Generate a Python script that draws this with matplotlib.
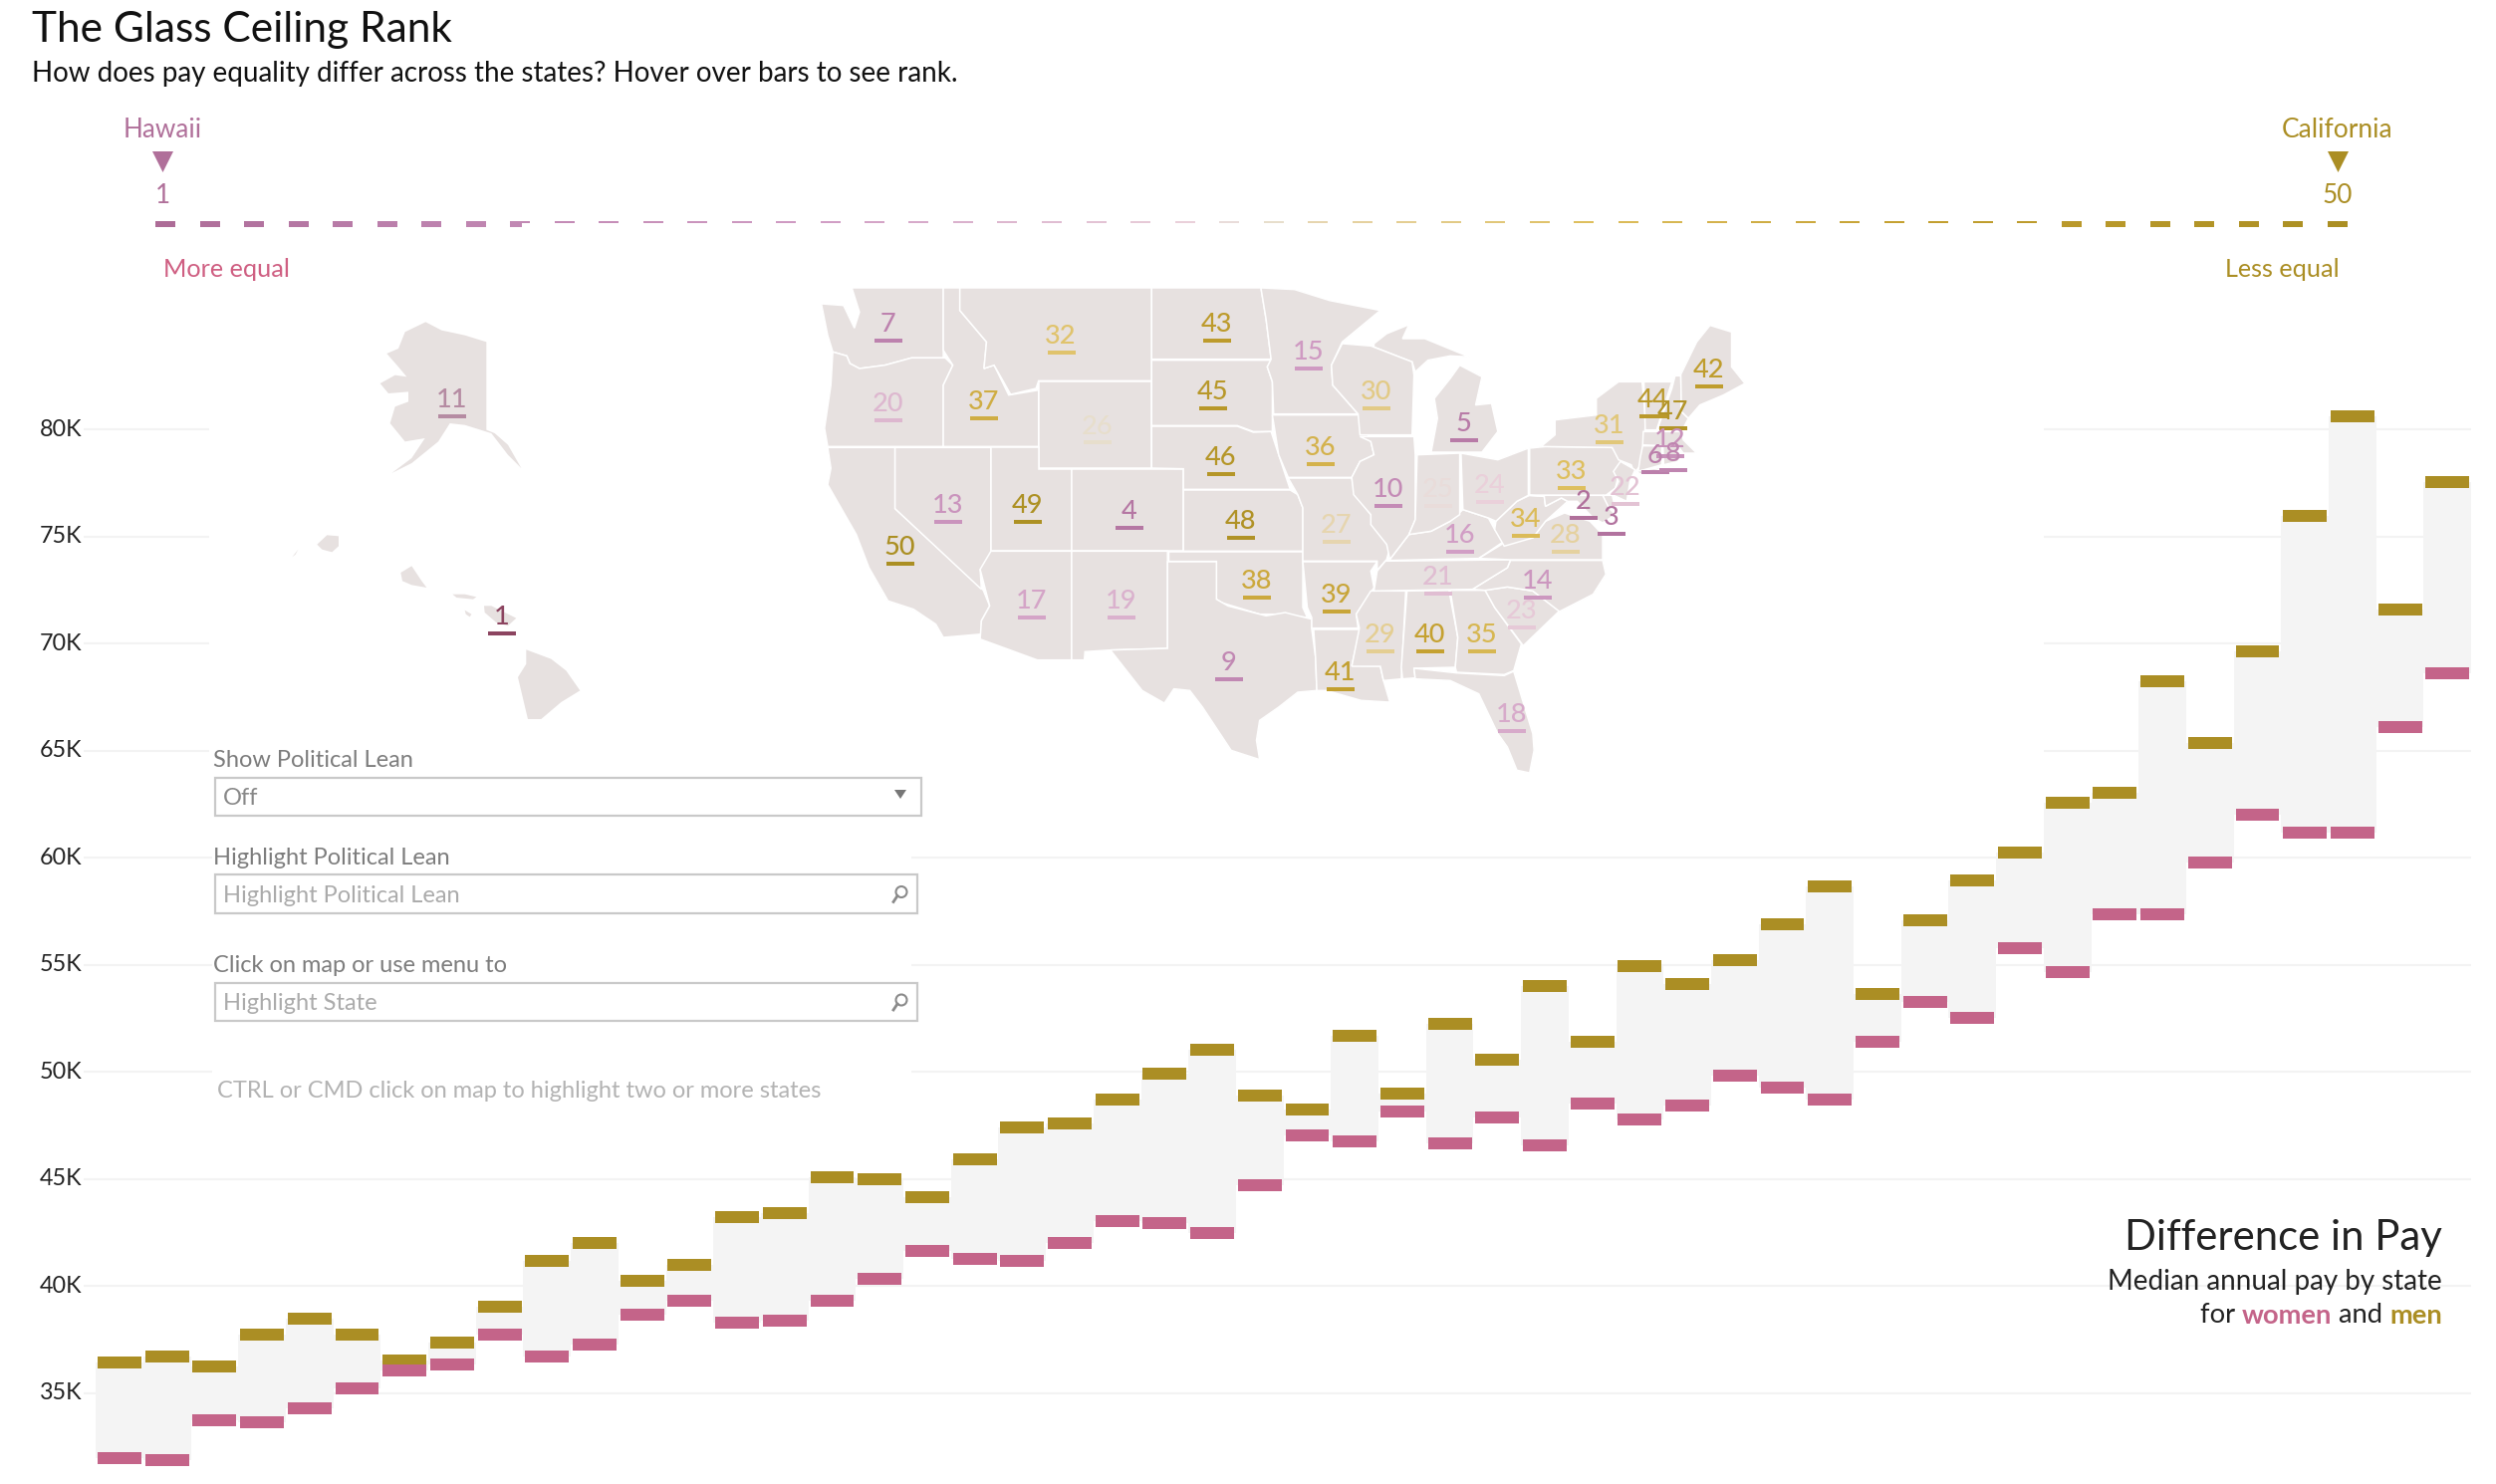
import matplotlib
matplotlib.use('Agg')
import matplotlib.pyplot as plt
import numpy as np
from matplotlib.colors import LinearSegmentedColormap
from matplotlib.patches import Polygon, Rectangle, Circle

W, H = 2506, 1490
plt.rcParams['font.family'] = ['Lato', 'DejaVu Sans']

# median pay in thousands, states sorted by men+women pay
men_pay = [36.43, 36.71, 36.24, 37.73, 38.47, 37.73, 36.52, 37.36, 39.03, 41.17,
           42.01, 40.24, 40.98, 43.22, 43.40, 45.08, 44.98, 44.15, 45.91, 47.40,
           47.59, 48.70, 49.91, 51.03, 48.89, 48.24, 51.68, 48.98, 52.24, 50.56,
           54.01, 51.40, 54.94, 54.10, 55.21, 56.89, 58.66, 53.63, 57.07, 58.94,
           60.24, 62.56, 63.03, 68.24, 65.35, 69.63, 75.96, 80.60, 71.58, 77.54]
women_pay = [31.96, 31.87, 33.73, 33.64, 34.29, 35.22, 36.06, 36.33, 37.73, 36.71,
             37.26, 38.66, 39.31, 38.29, 38.38, 39.31, 40.33, 41.64, 41.26, 41.17,
             42.01, 43.03, 42.94, 42.47, 44.71, 47.03, 46.75, 48.15, 46.66, 47.87,
             46.56, 48.52, 47.77, 48.43, 49.82, 49.26, 48.70, 51.40, 53.26, 52.52,
             55.77, 54.66, 57.35, 57.35, 59.77, 62.00, 61.17, 61.17, 66.10, 68.61]
y_ticks = [35, 40, 45, 50, 55, 60, 65, 70, 75, 80]
y_labels = ['35K', '40K', '45K', '50K', '55K', '60K', '65K', '70K', '75K', '80K']
ranks = list(range(1, 51))

GOLD = '#ab8e24'
PINK = '#c46489'
BAND = '#f4f4f4'
LAND = '#e7e1e0'

rank_cmap = LinearSegmentedColormap.from_list('rank', [
    (0.0, '#ad6c97'), (0.1, '#bb7fab'), (0.3, '#d09cc4'), (0.47, '#ead0da'), (0.5, '#e8e2da'),
    (0.53, '#e6d5ae'), (0.65, '#dfc060'), (0.8, '#c4a030'), (1.0, '#ab8f23')])


def rank_color(r):
    return rank_cmap((r - 1) / 49)


fig = plt.figure(figsize=(W / 100, H / 100), dpi=100)
fig.patch.set_facecolor('white')

# main chart, pixel scale: 21.504 px per 1K and 47.7 px per state
ax = fig.add_axes([84 / W, 0, (2481 - 84) / W, 1])
ax.set_xlim((84 - 120) / 47.7, (2481 - 120) / 47.7)
ax.set_ylim(35 - (H - 1398.7) / 21.504, 35 + 1398.7 / 21.504)
x = np.arange(len(men_pay))
men = np.array(men_pay)
women = np.array(women_pay)
mark_h = 12 / 21.504
ax.bar(x, men - women, bottom=women, width=1.0, color=BAND, zorder=2)
ax.bar(x, mark_h, bottom=men - mark_h / 2, width=0.92, color=GOLD, zorder=3)
ax.bar(x, mark_h, bottom=women - mark_h / 2, width=0.92, color=PINK, zorder=4)
ax.set_yticks(y_ticks)
ax.set_yticklabels(y_labels, fontsize=16.8, color='#222222', va='center')
ax.set_xticks([])
ax.tick_params(axis='y', length=0, pad=1)
ax.grid(axis='y', color='#f3f3f3', linewidth=1.5, zorder=1)
ax.set_axisbelow(True)
for s in ax.spines.values():
    s.set_visible(False)
ax.patch.set_alpha(0)

# everything else sits on an overlay measured in pixels
ov = fig.add_axes([0, 0, 1, 1], zorder=5)
ov.set_xlim(0, W)
ov.set_ylim(H, 0)
ov.axis('off')
ov.patch.set_alpha(0)

ov.add_patch(Rectangle((210, 232), 2052 - 210, 800 - 232, fc='white', ec='none', zorder=1))
ov.add_patch(Rectangle((213, 740), 915 - 213, 1110 - 740, fc='white', ec='none', zorder=1))

# rank strip
strip = fig.add_axes([100 / W, 1 - 240 / H, 2300 / W, 30 / H], zorder=4)
strip.set_xlim(1 + (100 - 166) / 44.5, 1 + (2400 - 166) / 44.5)
strip.set_ylim(30, 0)
strip.axis('off')
strip.bar(ranks, 6, bottom=12, width=20 / 44.5, color=[rank_color(r) for r in ranks])
ov.add_patch(Rectangle((524, 224), 2052 - 524, 8, fc='white', ec='none', zorder=2))

# map, traced on a 1568 x 1560 grid over the lower 48
shapes = {
    'WA': [(118, 57), (262, 57), (262, 268), (212, 268), (170, 290), (130, 300), (115, 285), (110, 262), (88, 250), (80, 200), (70, 105), (105, 110), (122, 178), (130, 130)],
    'OR': [(88, 250), (110, 262), (115, 285), (130, 300), (170, 290), (212, 268), (265, 268), (277, 290), (262, 350), (262, 535), (80, 535), (75, 480), (85, 350)],
    'CA': [(80, 538), (186, 538), (186, 722), (325, 968), (335, 1015), (322, 1060), (322, 1100), (262, 1110), (250, 1070), (215, 1025), (175, 1000), (145, 900), (125, 800), (80, 650), (85, 600)],
    'NV': [(186, 538), (337, 538), (337, 920), (320, 905), (322, 965), (186, 722)],
    'ID': [(262, 57), (288, 57), (288, 125), (330, 220), (326, 300), (342, 290), (365, 380), (412, 365), (412, 535), (262, 535), (262, 350), (277, 290), (262, 245)],
    'MT': [(288, 57), (590, 57), (590, 337), (412, 337), (408, 360), (368, 378), (342, 290), (326, 300), (330, 220), (288, 125)],
    'WY': [(412, 340), (590, 340), (590, 600), (412, 600)],
    'UT': [(337, 538), (412, 538), (412, 602), (464, 602), (464, 850), (337, 850)],
    'AZ': [(337, 850), (464, 850), (464, 1178), (410, 1178), (320, 1115), (322, 1060), (335, 1015), (320, 905)],
    'CO': [(464, 602), (640, 602), (640, 850), (464, 850)],
    'NM': [(464, 850), (615, 850), (615, 1143), (525, 1148), (485, 1153), (484, 1178), (464, 1178)],
    'ND': [(590, 57), (762, 57), (770, 150), (778, 272), (590, 272)],
    'SD': [(590, 275), (778, 275), (772, 295), (780, 340), (780, 490), (750, 490), (725, 472), (590, 472)],
    'NE': [(590, 474), (725, 474), (750, 492), (778, 490), (790, 560), (808, 664), (640, 664), (640, 602), (590, 600)],
    'KS': [(640, 666), (808, 666), (820, 680), (828, 720), (828, 850), (640, 850)],
    'OK': [(617, 852), (828, 852), (828, 1020), (835, 1050), (790, 1040), (760, 1040), (700, 1005), (692, 995), (692, 881), (617, 881)],
    'TX': [(615, 882), (692, 882), (692, 995), (710, 1015), (770, 1045), (800, 1035), (842, 1055), (842, 1085), (848, 1170), (850, 1270), (820, 1275), (790, 1320), (760, 1360), (755, 1420), (760, 1478), (715, 1450), (670, 1320), (650, 1270), (625, 1265), (610, 1308), (575, 1270), (525, 1148), (615, 1143)],
    'MN': [(762, 57), (815, 62), (870, 95), (950, 125), (890, 220), (873, 290), (875, 350), (915, 437), (782, 437), (780, 340), (772, 295), (778, 272), (770, 150)],
    'IA': [(780, 440), (915, 440), (935, 520), (940, 560), (918, 580), (905, 628), (805, 628), (790, 560)],
    'MO': [(805, 630), (905, 630), (910, 680), (935, 740), (965, 840), (960, 875), (945, 908), (945, 880), (828, 880), (828, 720), (820, 680)],
    'AR': [(828, 882), (945, 882), (935, 910), (940, 960), (912, 1040), (915, 1082), (842, 1082), (842, 1050), (835, 1020)],
    'LA': [(845, 1086), (918, 1086), (905, 1195), (950, 1197), (955, 1240), (965, 1305), (920, 1300), (865, 1270), (850, 1270), (848, 1170)],
    'MS': [(935, 970), (990, 970), (983, 1235), (955, 1240), (950, 1197), (905, 1197), (917, 1082), (912, 1040)],
    'AL': [(992, 970), (1058, 968), (1072, 1110), (1068, 1200), (1003, 1203), (1005, 1232), (985, 1235), (983, 1200)],
    'GA': [(1060, 968), (1115, 968), (1130, 1020), (1172, 1130), (1160, 1210), (1145, 1222), (1070, 1215), (1068, 1200), (1072, 1110)],
    'FL': [(1003, 1203), (1070, 1217), (1145, 1225), (1160, 1212), (1190, 1400), (1192, 1450), (1185, 1518), (1165, 1510), (1150, 1440), (1135, 1400), (1120, 1340), (1105, 1280), (1060, 1240), (1005, 1235)],
    'SC': [(1115, 968), (1150, 958), (1190, 970), (1232, 1030), (1175, 1135), (1130, 1020)],
    'NC': [(1095, 965), (1150, 900), (1155, 878), (1300, 878), (1305, 920), (1285, 980), (1232, 1032), (1190, 970), (1150, 958), (1115, 968)],
    'TN': [(958, 880), (1155, 876), (1150, 900), (1095, 965), (940, 970), (945, 910)],
    'KY': [(965, 875), (995, 800), (1030, 790), (1060, 760), (1080, 725), (1120, 750), (1130, 785), (1145, 820), (1105, 872), (965, 878)],
    'VA': [(1105, 872), (1145, 825), (1190, 810), (1210, 760), (1240, 735), (1280, 760), (1300, 800), (1300, 876), (1155, 876)],
    'WV': [(1132, 760), (1165, 700), (1185, 682), (1208, 685), (1210, 715), (1235, 690), (1245, 700), (1210, 760), (1190, 810), (1145, 835), (1130, 785)],
    'IL': [(918, 505), (1003, 505), (1005, 560), (1005, 755), (995, 800), (965, 875), (960, 830), (935, 770), (935, 740), (908, 680), (905, 628), (918, 580), (940, 560), (935, 520)],
    'IN': [(1008, 560), (1075, 555), (1075, 740), (1060, 760), (1030, 790), (995, 800), (1005, 755)],
    'OH': [(1077, 555), (1135, 575), (1183, 540), (1183, 682), (1165, 700), (1132, 760), (1120, 750), (1080, 725)],
    'MI': [(1030, 552), (1040, 450), (1035, 390), (1060, 330), (1075, 290), (1110, 325), (1100, 410), (1125, 405), (1135, 490), (1110, 552)],
    'UP': [(940, 225), (960, 195), (995, 168), (985, 210), (1020, 210), (1090, 265), (1060, 262), (1025, 275), (1005, 310), (1000, 280), (940, 235)],
    'WI': [(890, 225), (935, 232), (1000, 280), (1003, 320), (1000, 500), (918, 500), (915, 437), (875, 350), (873, 290)],
    'PA': [(1185, 540), (1210, 535), (1315, 538), (1330, 580), (1320, 660), (1305, 682), (1185, 682)],
    'NY': [(1203, 535), (1225, 500), (1225, 455), (1290, 440), (1290, 390), (1325, 340), (1362, 340), (1368, 460), (1360, 590), (1350, 615), (1345, 590), (1325, 575), (1315, 538)],
    'VT': [(1365, 340), (1409, 340), (1385, 485), (1367, 485)],
    'NH': [(1414, 322), (1423, 322), (1424, 430), (1435, 450), (1427, 480), (1386, 485), (1409, 360)],
    'ME': [(1423, 318), (1448, 220), (1469, 170), (1503, 190), (1503, 295), (1524, 345), (1490, 380), (1453, 410), (1435, 450), (1424, 430)],
    'MA': [(1364, 490), (1424, 490), (1427, 515), (1448, 555), (1427, 555), (1419, 535), (1363, 530)],
    'CT': [(1363, 533), (1393, 533), (1393, 590), (1356, 610), (1359, 570)],
    'RI': [(1395, 533), (1419, 535), (1419, 580), (1396, 590)],
    'NJ': [(1328, 580), (1351, 605), (1343, 640), (1338, 700), (1315, 680), (1325, 640), (1317, 610)],
    'DE': [(1300, 682), (1315, 682), (1320, 720), (1308, 720)],
    'MD': [(1185, 682), (1300, 682), (1310, 720), (1320, 740), (1300, 765), (1285, 750), (1260, 700), (1245, 700), (1235, 690), (1210, 715), (1208, 685)],
    'LI': [(1352, 610), (1420, 590), (1360, 618)],
}
# Alaska and Hawaii, traced at 3x
island_shapes = {
    'AK': [(682, 70), (730, 95), (800, 110), (865, 130), (865, 395), (890, 405), (930, 440), (970, 510), (930, 470), (880, 405), (800, 380), (755, 375), (720, 430), (640, 495), (580, 525), (640, 480), (680, 420), (620, 430), (575, 375), (590, 325), (630, 310), (630, 280), (570, 285), (545, 255), (590, 230), (625, 235), (600, 205), (565, 165), (600, 150), (620, 100)],
    'Kauai': [(355, 740), (385, 712), (420, 715), (420, 745), (400, 763), (370, 755)],
    'Oahu': [(607, 825), (640, 805), (670, 850), (685, 870), (640, 862), (612, 850)],
    'Molokai': [(763, 890), (800, 890), (835, 898), (825, 905), (775, 900)],
    'Lanai': [(800, 938), (820, 950), (815, 958), (803, 950)],
    'Maui': [(858, 925), (880, 925), (955, 962), (930, 985), (895, 975), (860, 945)],
    'Big': [(985, 1057), (1060, 1085), (1105, 1120), (1147, 1180), (1090, 1215), (1030, 1266), (990, 1266), (960, 1140), (985, 1100)],
    'Niihau': [(280, 778), (298, 755), (290, 770)],
}


def from_grid(px, py):
    return 780 + px / 1.568, 270 + py / 3


for name, pts in shapes.items():
    ov.add_patch(Polygon([from_grid(*p) for p in pts], closed=True, fc=LAND, ec='white', lw=1.1, zorder=3))
for name, pts in island_shapes.items():
    ov.add_patch(Polygon([(200 + p[0] / 3, 300 + p[1] / 3) for p in pts], closed=True, fc=LAND, ec='none', zorder=3))

# rank label on each state, at the centre of its underline
rank_spots = {
    7: (176, 215), 32: (448, 251), 43: (693, 215), 15: (837, 299), 45: (687, 419), 20: (176, 455),
    37: (326, 449), 26: (505, 522), 30: (944, 419), 5: (1082, 515), 36: (856, 587), 46: (699, 617),
    42: (1468, 353), 44: (1380, 443), 47: (1411, 479), 31: (1311, 521), 12: (1406, 563), 6: (1383, 611),
    8: (1411, 605), 33: (1251, 659), 22: (1336, 707), 24: (1123, 701), 25: (1041, 713), 10: (963, 713),
    13: (270, 761), 49: (395, 761), 4: (555, 779), 48: (731, 809), 27: (881, 821), 34: (1179, 803),
    28: (1242, 851), 2: (1270, 749), 3: (1314, 797), 16: (1076, 851), 50: (194, 887), 38: (756, 989),
    39: (881, 1031), 21: (1041, 977), 14: (1198, 989), 23: (1173, 1079), 17: (401, 1049), 19: (543, 1049),
    29: (950, 1151), 40: (1029, 1151), 35: (1110, 1151), 41: (887, 1265), 9: (712, 1235), 18: (1157, 1391),
}


def rank_mark(r, bx, by, col):
    ov.add_patch(Rectangle((bx - 14, by - 2), 28, 4, fc=col, ec='none', zorder=4))
    ov.text(bx - 0.5, by - 16, str(r), color=col, fontsize=19.5, weight='medium', ha='center', va='center', zorder=5)


for r, spot in rank_spots.items():
    bx, by = from_grid(*spot)
    rank_mark(r, bx, by, rank_color(r))
rank_mark(11, 454, 417.7, '#b58ba2')
rank_mark(1, 504, 635.7, '#8c4460')

# header
ov.text(32, 42, 'The Glass Ceiling Rank', fontsize=30.5, color='#111111', ha='left', va='baseline')
ov.text(32, 82, 'How does pay equality differ across the states? Hover over bars to see rank.', fontsize=20, color='#111111', ha='left', va='baseline')

ov.text(163, 130, 'Hawaii', fontsize=18.8, color='#b0709a', ha='center', va='center')
ov.add_patch(Polygon([(153, 152), (174, 152), (163.5, 173)], fc='#b0709a', ec='none'))
ov.text(163, 196, '1', fontsize=18.8, color='#b0709a', ha='center', va='center')
ov.text(164, 270, 'More equal', fontsize=18.2, color='#cf5f82', ha='left', va='center')
ov.text(2347, 130, 'California', fontsize=19, color=GOLD, ha='center', va='center')
ov.add_patch(Polygon([(2337, 152), (2358, 152), (2347.5, 173)], fc=GOLD, ec='none'))
ov.text(2347, 196, '50', fontsize=18.8, color=GOLD, ha='center', va='center')
ov.text(2349, 270, 'Less equal', fontsize=18.2, color=GOLD, ha='right', va='center')

# filter controls
label_col = '#7d7d7d'
hint_col = '#ababab'
box_col = '#c9c9c9'
for ty, y0, y1, x1, label, inner, inner_col in [
        (764, 781, 819, 925, 'Show Political Lean', 'Off', '#888888'),
        (862, 878, 917, 921, 'Highlight Political Lean', 'Highlight Political Lean', hint_col),
        (970, 987, 1025, 921, 'Click on map or use menu to', 'Highlight State', hint_col)]:
    ov.text(214, ty, label, fontsize=17, color=label_col, ha='left', va='center', zorder=4)
    ov.add_patch(Rectangle((216, y0), x1 - 216, y1 - y0, fc='white', ec=box_col, lw=1.6, zorder=4))
    ov.text(224, (y0 + y1) / 2 + 2, inner, fontsize=17, color=inner_col, ha='left', va='center', zorder=5)
    if inner == 'Off':
        ov.add_patch(Polygon([(898, 793), (910, 793), (904, 802)], fc='#777777', ec='none', zorder=5))
    else:
        cy = (y0 + y1) / 2
        ov.add_patch(Circle((905, cy - 2), 5.5, fc='none', ec='#8a8a8a', lw=1.5, zorder=5))
        ov.plot([901, 897], [cy + 2, cy + 8], color='#8a8a8a', lw=2, zorder=5)
ov.text(218, 1096, 'CTRL or CMD click on map to highlight two or more states', fontsize=17, color='#b3b3b3', ha='left', va='center', zorder=4)

# caption, bottom right
ov.text(2452, 1255, 'Difference in Pay', fontsize=30.2, color='#222222', ha='right', va='baseline')
ov.text(2452, 1287, 'Median annual pay by state', fontsize=20, color='#222222', ha='right', va='center')
renderer = fig.canvas.get_renderer()
cx = 2452
for word, col, wt in [('men', GOLD, 'bold'), (' and ', '#222222', 'normal'), ('women', PINK, 'bold'), ('for ', '#222222', 'normal')]:
    t = ov.text(cx, 1321, word.replace(' ', '\u00a0'), fontsize=19.7, color=col, weight=wt, ha='right', va='center')
    cx -= t.get_window_extent(renderer).width

fig.savefig('out.png', dpi=100)
